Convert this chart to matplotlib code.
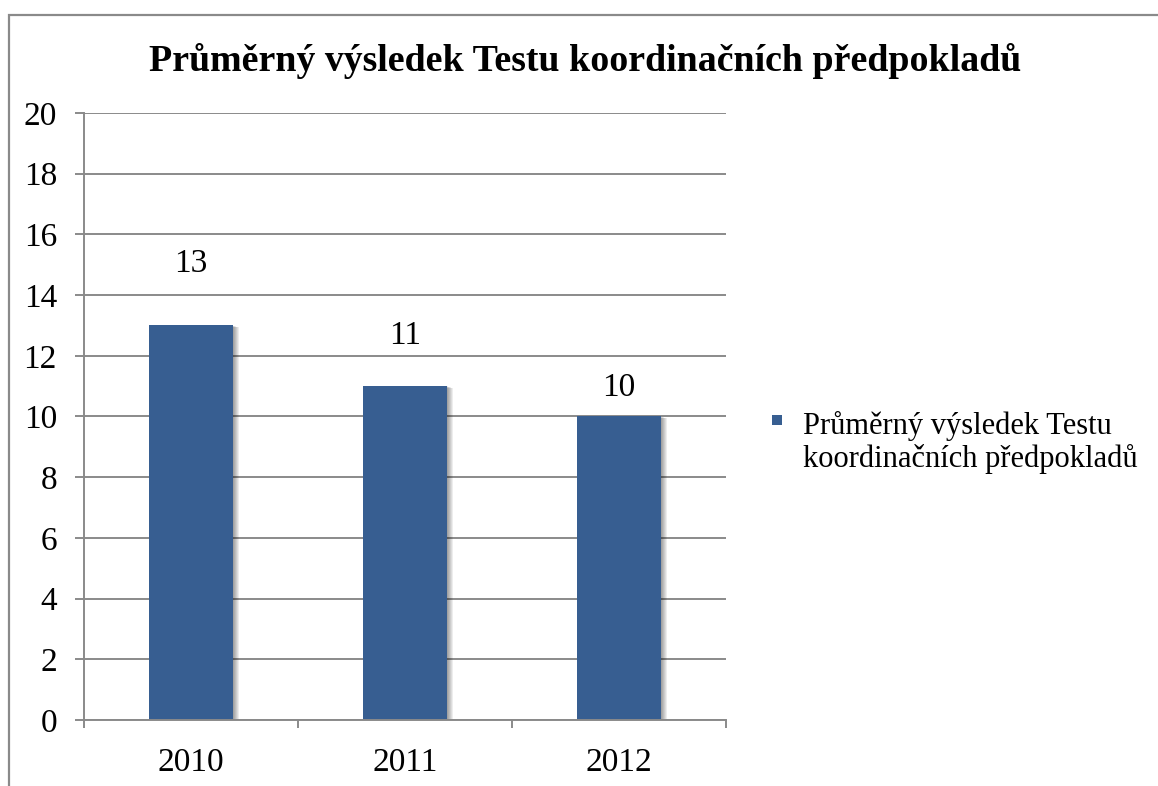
import matplotlib.pyplot as plt
from matplotlib.patches import Rectangle
from matplotlib import transforms

plt.rcParams["font.family"] = ["Liberation Serif", "DejaVu Serif"]

# Data
years = ["2010", "2011", "2012"]
scores = [13, 11, 10]
series_name = "Průměrný výsledek Testu\nkoordinačních předpokladů"
title = "Průměrný výsledek Testu koordinačních předpokladů"

bar_color = "#375E91"
grid_color = "#8A8A8A"

fig = plt.figure(figsize=(11.58, 7.86), dpi=100)
ax = fig.add_axes([84 / 1158, 1 - 720 / 786, (726 - 84) / 1158, (720 - 113) / 786])

x = range(len(years))

# soft shadow on the right side of the bars
for k in range(1, 7):
    off = transforms.offset_copy(ax.transData, fig=fig, x=k, y=-k * 0.3, units="dots")
    ax.bar(x, scores, width=0.39, color="black", alpha=0.07, transform=off, zorder=2,
           linewidth=0)

bars = ax.bar(x, scores, width=0.39, color=bar_color, zorder=3, linewidth=0)

# value labels (Excel put them at slightly uneven heights)
label_lift = [62, 50, 29]
for i, v in enumerate(scores):
    ax.annotate(str(v), (i, v), xytext=(0, label_lift[i]), textcoords="offset pixels",
                ha="center", va="center", fontsize=24)

ax.set_xlim(-0.5, len(years) - 0.5)
ax.set_ylim(0, 20)
ax.set_yticks(range(0, 21, 2))
ax.set_xticks(list(x))
ax.set_xticklabels(years)
ax.set_xticks([-0.5, 0.5, 1.5, 2.5], minor=True)

ax.yaxis.grid(True, color=grid_color, linewidth=1.4, zorder=0)
ax.set_axisbelow(True)
for side in ["top", "right"]:
    ax.spines[side].set_visible(False)
for side in ["left", "bottom"]:
    ax.spines[side].set_color(grid_color)
    ax.spines[side].set_linewidth(1.4)
    ax.spines[side].set_zorder(4)

ax.tick_params(axis="y", length=6.5, width=1.4, color=grid_color, pad=13, labelsize=24)
ax.tick_params(axis="x", which="major", length=0, pad=20, labelsize=24)
ax.tick_params(axis="x", which="minor", length=6, width=1.4, color=grid_color, direction="out")

fig.text(0.505, 1 - 61 / 786, title, ha="center", va="center", fontsize=27.3,
         fontweight="bold")

# legend: square marker next to the first line of a two-line label
fig.patches.append(Rectangle((772 / 1158, 1 - 425 / 786), 10 / 1158, 10 / 786,
                             transform=fig.transFigure, facecolor=bar_color,
                             edgecolor="none"))
fig.text(803 / 1158, 1 - 467 / 786, series_name, ha="left", va="baseline",
         fontsize=22, linespacing=1.12)

# chart-area frame (cropped at right and bottom in the original)
fig.patches.append(Rectangle((9 / 1158, -0.1), 1.2, 1 - 15 / 786 + 0.1,
                             transform=fig.transFigure, fill=False,
                             edgecolor=grid_color, linewidth=1.6))

fig.savefig("out.png", dpi=100)
